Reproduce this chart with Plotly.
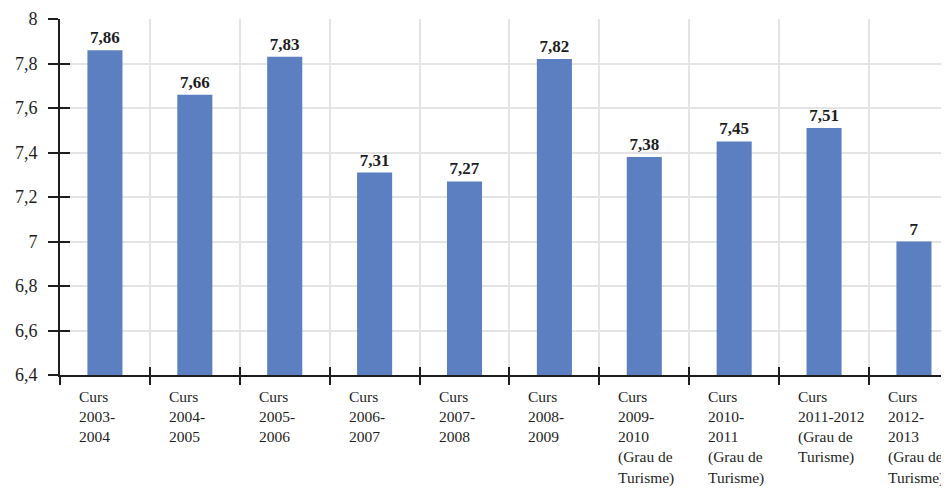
import plotly.graph_objects as go

categories = [
    ["Curs", "2003-", "2004"],
    ["Curs", "2004-", "2005"],
    ["Curs", "2005-", "2006"],
    ["Curs", "2006-", "2007"],
    ["Curs", "2007-", "2008"],
    ["Curs", "2008-", "2009"],
    ["Curs", "2009-", "2010", "(Grau de", "Turisme)"],
    ["Curs", "2010-", "2011", "(Grau de", "Turisme)"],
    ["Curs", "2011-2012", "(Grau de", "Turisme)"],
    ["Curs", "2012-", "2013", "(Grau de", "Turisme)"],
]
values = [7.86, 7.66, 7.83, 7.31, 7.27, 7.82, 7.38, 7.45, 7.51, 7.00]
ytick_vals = [6.4, 6.6, 6.8, 7.0, 7.2, 7.4, 7.6, 7.8, 8.0]
ytick_text = ["6,4", "6,6", "6,8", "7", "7,2", "7,4", "7,6", "7,8", "8"]

def fmt(v):
    s = f"{v:.2f}".rstrip("0").rstrip(".")
    return s.replace(".", ",")

labels = [fmt(v) for v in values]
xs = list(range(len(values)))
bounds = [i - 0.5 for i in range(len(values) + 1)]

SERIF = "Liberation Serif, Times New Roman, serif"
AX = "#1e1e1e"
GRID = "#e4e4e4"
XR = [-0.5, 9.39]
YR = [6.4, 8.0]

fig = go.Figure()
fig.add_trace(go.Bar(
    x=xs, y=values, width=0.39,
    marker=dict(color="#5b7fc0", line=dict(width=0)),
    text=labels, textposition="outside",
    textfont=dict(family=SERIF, size=17, color="#1e1e1e", weight="bold"),
    cliponaxis=False, showlegend=False,
))
# invisible trace anchoring the overlay axes that draw the inner half of the ticks
fig.add_trace(go.Scatter(x=[xs[0]], y=[values[0]], xaxis="x2", yaxis="y2", mode="markers",
                         marker=dict(opacity=0), showlegend=False, hoverinfo="skip"))

for i, lines in enumerate(categories):
    fig.add_annotation(
        x=xs[i], y=0, xref="x", yref="paper",
        xanchor="left", yanchor="top", align="left",
        xshift=-28, yshift=-11,
        text="<br>".join(lines), showarrow=False,
        font=dict(family=SERIF, size=15.5, color="#1e1e1e"),
    )

fig.update_layout(
    width=941, height=482,
    margin=dict(l=52, r=0, t=11, b=115),
    plot_bgcolor="white", paper_bgcolor="white",
    xaxis=dict(
        range=XR, tickmode="array", tickvals=bounds,
        showticklabels=False, ticks="outside", ticklen=8, tickwidth=2, tickcolor=AX,
        showgrid=True, gridcolor=GRID, gridwidth=1.5,
        showline=True, linecolor=AX, linewidth=2, zeroline=False,
    ),
    xaxis2=dict(
        range=XR, overlaying="x", side="bottom", tickmode="array", tickvals=bounds,
        showticklabels=False, ticks="inside", ticklen=8, tickwidth=2, tickcolor=AX,
        showgrid=False, showline=False, zeroline=False,
    ),
    yaxis=dict(
        range=YR, tickmode="array", tickvals=ytick_vals, ticktext=ytick_text,
        ticks="outside", ticklen=10, tickwidth=2, tickcolor=AX,
        ticklabelstandoff=7,
        tickfont=dict(family=SERIF, size=18, color="#1e1e1e"),
        showgrid=True, gridcolor=GRID, gridwidth=1.5,
        showline=True, linecolor=AX, linewidth=2, zeroline=False,
    ),
    yaxis2=dict(
        range=YR, overlaying="y", side="left", tickmode="array",
        tickvals=ytick_vals, showticklabels=False, ticks="inside", ticklen=10,
        tickwidth=2, tickcolor=AX, showgrid=False, showline=False, zeroline=False,
    ),
)

fig.write_html("out.html")
